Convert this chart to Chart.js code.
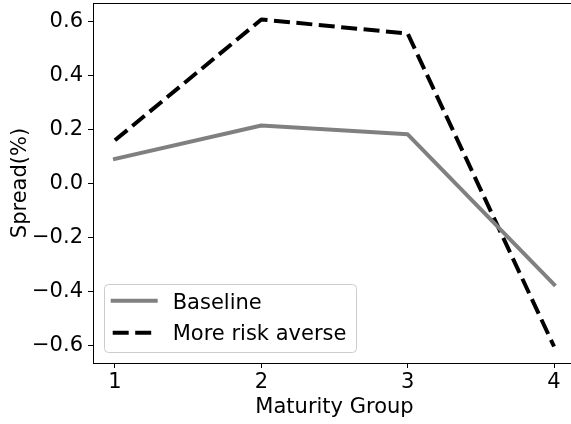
<!DOCTYPE html>
<html>
<head>
<meta charset="utf-8">
<script src="https://cdn.jsdelivr.net/npm/chart.js@4/dist/chart.umd.min.js"></script>
<style>
html,body{margin:0;padding:0;overflow:hidden;background:#fff;width:571px;height:424px;}
#wrap{width:577px;height:424px;}
</style>
</head>
<body>
<div id="wrap"><canvas id="c" width="577" height="424"></canvas></div>
<script>
const groups = [1, 2, 3, 4];
const baseline = [0.09, 0.214, 0.181, -0.374];
const riskAverse = [0.159, 0.606, 0.554, -0.604];
const yTicks = [-0.6, -0.4, -0.2, 0.0, 0.2, 0.4, 0.6];
const xTicks = [1, 2, 3, 4];
const seriesNames = ['Baseline', 'More risk averse'];

const FONT = 'DejaVu Sans';

const frame = {
  id: 'frame',
  afterDatasetsDraw(chart) {
    const a = chart.chartArea, ctx = chart.ctx;
    ctx.save();
    ctx.strokeStyle = '#000';
    ctx.lineWidth = 1;
    ctx.strokeRect(Math.round(a.left) + 0.5, Math.round(a.top) + 0.5, Math.round(a.right - a.left), Math.round(a.bottom - a.top));
    ctx.restore();
  }
};

const legendBox = {
  id: 'legendBox',
  afterDraw(chart) {
    const ctx = chart.ctx;
    ctx.save();
    const x0 = 104.5, y0 = 284.5, w = 252, h = 68, r = 4;
    ctx.beginPath();
    ctx.moveTo(x0 + r, y0);
    ctx.arcTo(x0 + w, y0, x0 + w, y0 + h, r);
    ctx.arcTo(x0 + w, y0 + h, x0, y0 + h, r);
    ctx.arcTo(x0, y0 + h, x0, y0, r);
    ctx.arcTo(x0, y0, x0 + w, y0, r);
    ctx.closePath();
    ctx.fillStyle = 'rgba(255,255,255,0.8)';
    ctx.fill();
    ctx.strokeStyle = '#cccccc';
    ctx.lineWidth = 1;
    ctx.stroke();
    const rows = [300.7, 332.7];
    const baselines = [308.5, 340];
    chart.data.datasets.forEach((ds, i) => {
      ctx.beginPath();
      ctx.strokeStyle = ds.borderColor;
      ctx.lineWidth = ds.borderWidth;
      ctx.setLineDash(ds.borderDash || []);
      ctx.lineCap = ds.borderDash ? 'butt' : 'square';
      ctx.moveTo(112.7, rows[i]);
      ctx.lineTo(155.7, rows[i]);
      ctx.stroke();
      ctx.setLineDash([]);
      ctx.fillStyle = '#000';
      ctx.font = '21px "' + FONT + '"';
      ctx.textBaseline = 'alphabetic';
      ctx.textAlign = 'left';
      ctx.fillText(ds.label, 172.7, baselines[i]);
    });
    ctx.restore();
  }
};

new Chart(document.getElementById('c'), {
  type: 'line',
  data: {
    datasets: [
      {
        label: seriesNames[0],
        data: groups.map((g, i) => ({x: g, y: baseline[i]})),
        borderColor: '#808080',
        borderWidth: 4,
        borderCapStyle: 'square',
        borderJoinStyle: 'round',
        pointRadius: 0,
        tension: 0,
        fill: false
      },
      {
        label: seriesNames[1],
        data: groups.map((g, i) => ({x: g, y: riskAverse[i]})),
        borderColor: '#000000',
        borderWidth: 4,
        borderDash: [16, 6.5],
        borderCapStyle: 'butt',
        borderJoinStyle: 'round',
        pointRadius: 0,
        tension: 0,
        fill: false
      }
    ]
  },
  options: {
    responsive: false,
    animation: false,
    devicePixelRatio: 1,
    layout: {padding: {left: 0, right: 1, top: 3, bottom: 0}},
    plugins: {legend: {display: false}, tooltip: {enabled: false}},
    scales: {
      x: {
        type: 'linear',
        min: 0.85,
        max: 4.15,
        afterBuildTicks(axis) { axis.ticks = xTicks.map(v => ({value: v})); },
        afterFit(scale) { scale.height = 61; scale.paddingLeft = 0; scale.paddingRight = 0; },
        grid: {display: true, drawOnChartArea: false, drawTicks: true, tickLength: 5, color: '#000', tickWidth: 1},
        border: {display: true, color: '#000', width: 1},
        ticks: {color: '#000', font: {family: FONT, size: 21}, padding: 2, maxRotation: 0, callback: v => String(v)},
        title: {display: true, text: 'Maturity Group', color: '#000', font: {family: FONT, size: 21}, padding: {top: 0, bottom: 4}}
      },
      y: {
        type: 'linear',
        min: -0.665,
        max: 0.667,
        afterBuildTicks(axis) { axis.ticks = yTicks.map(v => ({value: v})); },
        afterFit(scale) { scale.width = 93; scale.paddingTop = 0; scale.paddingBottom = 0; },
        grid: {display: true, drawOnChartArea: false, drawTicks: true, tickLength: 5, color: '#000', tickWidth: 1},
        border: {display: true, color: '#000', width: 1},
        ticks: {color: '#000', font: {family: FONT, size: 21}, padding: 5,
          callback: v => (v < 0 ? '\u2212' + Math.abs(v).toFixed(1) : v.toFixed(1))},
        title: {display: true, text: 'Spread(%)', color: '#000', font: {family: FONT, size: 21}, padding: {top: 8, bottom: 0}}
      }
    }
  },
  plugins: [frame, legendBox]
});
</script>
</body>
</html>
